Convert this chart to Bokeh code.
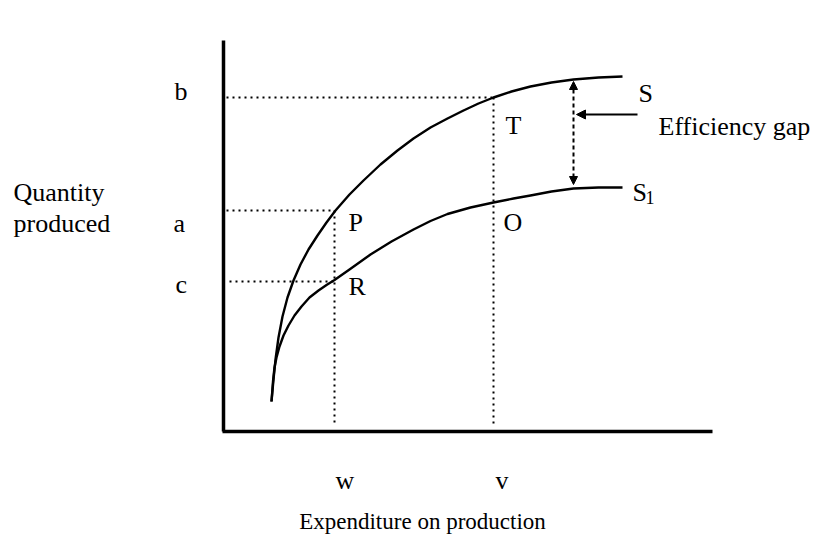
from bokeh.plotting import figure
from bokeh.models import Range1d, Label, Arrow, NormalHead
from bokeh.embed import file_html
from bokeh.resources import INLINE

# ---- data (diagram units: expenditure on x, quantity on y) ----
S_x = [48, 50, 52, 55, 59, 64, 70, 77, 85, 94, 103, 112, 126, 140, 157, 174, 190, 207,
       224, 240, 255, 270, 288, 307, 328, 350, 375, 399]
S_y = [30, 52, 72, 94, 115, 134, 151, 167, 182, 196, 209, 221, 237, 251, 267, 281, 293, 304,
       313, 321, 328, 334, 340, 345, 349, 352, 354, 355]
S1_x = [48, 49.5, 51, 53, 56, 60, 65, 71, 78, 86, 95, 103, 111, 126, 147, 168, 190, 207,
        224, 247, 270, 290, 307, 328, 350, 375, 399]
S1_y = [30, 50, 64, 74, 85, 96, 106, 116, 125, 134, 141, 146.5, 151.5, 162, 177, 190, 202, 210.5,
        217.5, 224, 229, 233, 236, 240, 243, 244, 244]

level_b = 334
level_a = 221
level_c = 150
exp_w = 111
exp_v = 270
gap_x = 350
gap_top = 351
gap_bottom = 244

FONT = "Liberation Serif"

p = figure(width=815, height=535, output_backend="svg", toolbar_location=None,
           x_range=Range1d(-223, 592), y_range=Range1d(-104, 431),
           x_axis_type=None, y_axis_type=None, min_border=0)
p.min_border_left = p.min_border_right = p.min_border_top = p.min_border_bottom = 0
p.grid.visible = False
p.outline_line_color = None
p.background_fill_color = "white"
p.border_fill_color = "white"

# axes
p.line([0, 0], [391, 0], line_color="black", line_width=3.5)
p.line([-1, 489], [0, 0], line_color="black", line_width=3.5)

# dotted guide lines
dot = dict(line_color="black", line_width=2, line_dash="2 4")
p.line([3, exp_v], [level_b, level_b], **dot)
p.line([3, exp_w], [level_a, level_a], **dot)
p.line([6, exp_w], [level_c, level_c], **dot)
p.line([exp_w, exp_w], [level_a, 6], **dot)
p.line([exp_v, exp_v], [level_b, 6], **dot)

# curves
p.line(S_x, S_y, line_color="black", line_width=2.4, line_join="round")
p.line(S1_x, S1_y, line_color="black", line_width=2.4, line_join="round")

# efficiency gap double arrow
p.add_layout(Arrow(x_start=gap_x, y_start=gap_bottom + 3, x_end=gap_x, y_end=gap_top - 1,
                   line_width=2, line_dash="4 3",
                   start=NormalHead(size=8, fill_color="black", line_color="black", line_width=1),
                   end=NormalHead(size=8, fill_color="black", line_color="black", line_width=1)))
p.add_layout(Arrow(x_start=414, y_start=317, x_end=gap_x + 3, y_end=317, line_width=1.8,
                   end=NormalHead(size=9, fill_color="black", line_color="black", line_width=1)))

# texts
labels = [
    ("b", -49, 340, 26), ("a", -50, 208, 26), ("c", -48, 147, 26),
    ("Quantity", -210, 239, 26), ("produced", -210, 208, 26),
    ("S", 415, 338, 26), ("S", 409, 239, 26), ("1", 422, 234, 18),
    ("Efficiency gap", 435, 305, 26),
    ("T", 282, 306, 26), ("O", 280, 209, 26), ("P", 125, 209, 26), ("R", 125, 145, 26),
    ("w", 112, -49, 26), ("v", 272, -49, 26),
]
for t, x, y, s in labels:
    p.add_layout(Label(x=x, y=y, text=t, text_font=FONT, text_font_size=f"{s}px",
                       text_color="black", text_baseline="alphabetic", text_align="left"))
p.add_layout(Label(x=199, y=-90, text="Expenditure on production", text_font=FONT,
                   text_font_size="23px", text_color="black",
                   text_baseline="alphabetic", text_align="center"))

open("out.html", "w").write(file_html(p, INLINE))
